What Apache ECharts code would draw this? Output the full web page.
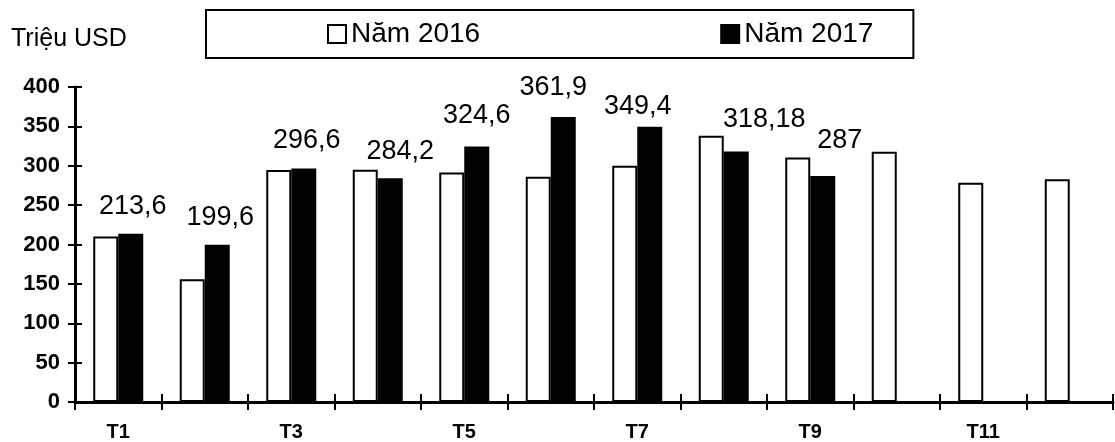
<!DOCTYPE html>
<html>
<head>
<meta charset="utf-8">
<script src="https://cdn.jsdelivr.net/npm/echarts@6/dist/echarts.min.js"></script>
<style>
  html, body { margin: 0; padding: 0; background: #fff; }
  #chart { width: 1115px; height: 442px; }
</style>
</head>
<body>
<div id="chart"></div>
<script>
// Monthly values, million USD
const months = ['T1', 'T2', 'T3', 'T4', 'T5', 'T6', 'T7', 'T8', 'T9', 'T10', 'T11', 'T12'];
const year2016 = [210.2, 155.8, 294.5, 294.8, 291.3, 286.1, 300.1, 338, 310.6, 317.7, 278.5, 282.8];
const year2017 = [213.6, 199.6, 296.6, 284.2, 324.6, 361.9, 349.4, 318.18, 287, null, null, null];
const seriesNames = ['Năm 2016', 'Năm 2017'];
const unitLabel = 'Triệu USD';
const yMin = 0, yMax = 400, yStep = 50;

// hand-placed nudges [dx, dy] for the value labels above the 2017 bars
const labelShift = [[2, 0], [3, 0], [3, 0], [10, 1], [0, -3], [-10, -2], [-12, 7], [28, -4], [17, -8]];

const FONT = '"Liberation Sans", Arial, sans-serif';
const fmt = v => String(v).replace('.', ',');

const data2017 = year2017.map((v, i) => {
  if (v == null) return null;
  const s = labelShift[i] || [0, 0];
  return { value: v, label: { offset: s } };
});

const chart = echarts.init(document.getElementById('chart'), null, { renderer: 'canvas' });

const catAxisBase = {
  type: 'category',
  data: months,
  boundaryGap: true,
  position: 'bottom'
};
const valAxisBase = {
  type: 'value',
  min: yMin,
  max: yMax,
  interval: yStep,
  position: 'left',
  splitLine: { show: false }
};

chart.setOption({
  animation: false,
  backgroundColor: '#fff',
  textStyle: { fontFamily: FONT, color: '#000' },
  graphic: [{
    type: 'text',
    left: 11,
    top: 27,
    style: { text: unitLabel, font: '25px ' + FONT, fill: '#000' }
  }],
  legend: {
    left: 206,
    top: 10,
    padding: [10, 40, 10, 121],
    itemGap: 240,
    itemWidth: 18,
    itemHeight: 18,
    icon: 'rect',
    borderColor: '#000',
    borderWidth: 2,
    textStyle: { fontSize: 28, fontFamily: FONT, color: '#000' },
    data: seriesNames
  },
  grid: { left: 75, right: 2, top: 87, bottom: 39, containLabel: false },
  xAxis: [
    Object.assign({}, catAxisBase, {
      axisLine: { show: true, lineStyle: { color: '#000', width: 3 } },
      axisTick: { show: true, interval: 0, length: 8, lineStyle: { color: '#000', width: 2 } },
      axisLabel: {
        interval: 1,
        margin: 20,
        fontSize: 20,
        fontWeight: 'bold',
        fontFamily: FONT,
        color: '#000'
      }
    }),
    // inner half of the crossing tick marks
    Object.assign({}, catAxisBase, {
      axisLine: { show: false },
      axisTick: { show: true, inside: true, interval: 0, length: 8, lineStyle: { color: '#000', width: 2 } },
      axisLabel: { show: false }
    })
  ],
  yAxis: [
    Object.assign({}, valAxisBase, {
      axisLine: { show: true, lineStyle: { color: '#000', width: 3 } },
      axisTick: { show: true, length: 7, lineStyle: { color: '#000', width: 2 } },
      axisLabel: {
        margin: 15,
        fontSize: 22,
        fontWeight: 'bold',
        fontFamily: FONT,
        color: '#000'
      }
    }),
    Object.assign({}, valAxisBase, {
      axisLine: { show: false },
      axisTick: { show: true, inside: true, length: 7, lineStyle: { color: '#000', width: 2 } },
      axisLabel: { show: false }
    })
  ],
  series: [
    {
      name: seriesNames[0],
      type: 'bar',
      xAxisIndex: 0,
      yAxisIndex: 0,
      barWidth: 25,
      barGap: '0%',
      itemStyle: { color: '#fff', borderColor: '#000', borderWidth: 2 },
      data: year2016
    },
    {
      name: seriesNames[1],
      type: 'bar',
      xAxisIndex: 0,
      yAxisIndex: 0,
      barWidth: 25,
      barGap: '0%',
      itemStyle: { color: '#000', borderColor: '#000', borderWidth: 2 },
      label: {
        show: true,
        position: 'top',
        distance: 14,
        fontSize: 27,
        fontFamily: FONT,
        color: '#000',
        formatter: p => fmt(p.value)
      },
      data: data2017
    }
  ]
});
</script>
</body>
</html>
